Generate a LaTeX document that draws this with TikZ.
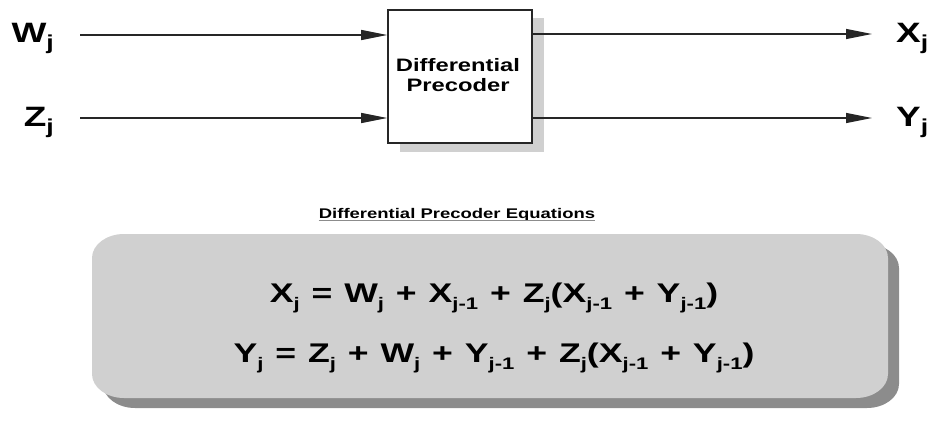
\documentclass[tikz,border=0pt]{standalone}
\usepackage{fontspec}
\setmainfont{Liberation Sans}
\newfontfamily\eqfont[WordSpace=1.2]{Liberation Sans}
\usepackage{graphicx}
\usetikzlibrary{arrows.meta}
\makeatletter
\newcommand{\subsgen}[3]{{\@tempdima=\f@size pt\@tempdima=#1\@tempdima\edef\mysubsz{\strip@pt\@tempdima}\raisebox{-#2}{\fontsize{\mysubsz}{\mysubsz}\selectfont #3}}}
\makeatother
\newcommand{\subs}[1]{\subsgen{0.62}{0.55ex}{#1}}
\newcommand{\subl}[1]{\subsgen{0.72}{0.42ex}{#1}}
\newcommand{\sx}[1]{\scalebox{1.32}[1]{#1}}
\definecolor{boxgray}{RGB}{208,208,208}
\definecolor{shadegray}{RGB}{140,140,140}
\definecolor{lightshade}{RGB}{208,208,208}
\tikzset{
  lbl/.style={font=\fontsize{28}{28}\selectfont\bfseries, inner sep=0pt},
  arr/.style={line width=1.2pt, draw=black!85, -{Triangle[length=26pt,width=10pt]}},
  pcbox/.style={draw=black!85, line width=1.6pt, fill=white, minimum width=144pt, minimum height=133pt, inner sep=0pt},
  boxtxt/.style={font=\fontsize{18}{18}\selectfont\bfseries, align=center, inner sep=0pt},
  ttl/.style={font=\fontsize{14}{14}\selectfont\bfseries, inner sep=0pt},
  eqtxt/.style={font=\eqfont\fontsize{27}{27}\selectfont\bfseries, inner sep=0pt},
  erect/.style n args={4}{insert path={(#1+32,#2) -- (#3-32,#2) arc[start angle=270,end angle=360,x radius=32,y radius=24] -- (#3,#4-24) arc[start angle=0,end angle=90,x radius=32,y radius=24] -- (#1+32,#4) arc[start angle=90,end angle=180,x radius=32,y radius=24] -- (#1,#2+24) arc[start angle=180,end angle=270,x radius=32,y radius=24] -- cycle}}
}
\begin{document}
\begin{tikzpicture}[x=1pt,y=1pt]
\useasboundingbox (0,0) rectangle (933,429);
% block shadow and block
\fill[lightshade] (400,277) rectangle (544,411);
\node[pcbox] (pc) at (460,352.5) {};
\node[boxtxt, anchor=base] (t1) at (458,357) {\sx{Differential}};
\node[boxtxt, anchor=base] (t2) at (458,337) {\sx{Precoder}};
% labels
\node[lbl, anchor=base east] (w) at (54,386) {\sx{W\subl{j}}};
\node[lbl, anchor=base east] (z) at (54,302) {\sx{Z\subl{j}}};
\node[lbl, anchor=base west] (x) at (896,386) {\sx{X\subl{j}}};
\node[lbl, anchor=base west] (y) at (896,302) {\sx{Y\subl{j}}};
\coordinate (win) at (80,394);
\coordinate (zin) at (80,311);
\coordinate (xout) at (872,395);
\coordinate (yout) at (872,311);
\draw[arr] (win) -- (win -| pc.west);
\draw[arr] (zin) -- (zin -| pc.west);
\draw[arr] (xout -| pc.east) -- (xout);
\draw[arr] (yout -| pc.east) -- (yout);
% title
\node[ttl, anchor=base] (ttl) at (457,211) {\sx{Differential Precoder Equations}};
\draw[black!45, line width=0.8pt] ([yshift=-2pt]ttl.base west) -- ([yshift=-2pt]ttl.base east);
% equations box
\fill[shadegray, erect={103}{21}{899}{185}];
\fill[boxgray, erect={92}{31}{888}{195}];
\node[eqtxt, anchor=base] (e1) at (494,127) {\sx{X\subs{j} = W\subs{j} + X\subs{j-1} + Z\subs{j}(X\subs{j-1} + Y\subs{j-1})}};
\node[eqtxt, anchor=base] (e2) at (494,67) {\sx{Y\subs{j} = Z\subs{j} + W\subs{j} + Y\subs{j-1} + Z\subs{j}(X\subs{j-1} + Y\subs{j-1})}};
\end{tikzpicture}
\end{document}
